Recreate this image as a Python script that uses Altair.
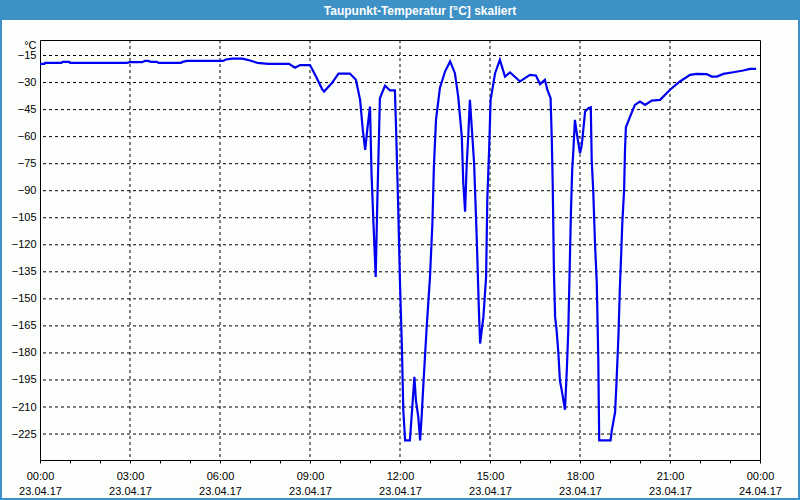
import altair as alt
import pandas as pd

# ---- data ----
hours = [0.0, 0.15, 0.17, 0.72, 0.75, 0.98, 1.0, 2.9, 3.0, 3.4, 3.5, 3.6, 3.7, 3.9, 3.95, 4.7, 4.75,
         4.9, 6.1, 6.2, 6.4, 6.75, 7.0, 7.25, 7.6, 8.3, 8.5, 8.67, 9.0, 9.2, 9.4, 9.47, 9.73, 9.95,
         10.33, 10.53, 10.67, 10.76, 10.84, 10.91, 11.0, 11.05, 11.12, 11.19, 11.24, 11.33, 11.5,
         11.67, 11.83, 11.87, 11.94, 12.0, 12.06, 12.11, 12.17, 12.33, 12.39, 12.48, 12.53, 12.61,
         12.67, 12.72, 12.8, 12.89, 13.0, 13.08, 13.13, 13.2, 13.33, 13.5, 13.67, 13.83, 13.94,
         14.06, 14.11, 14.17, 14.22, 14.28, 14.33, 14.39, 14.47, 14.56, 14.63, 14.67, 14.78, 14.87,
         14.91, 14.97, 15.02, 15.17, 15.33, 15.5, 15.67, 16.0, 16.33, 16.53, 16.67, 16.83, 16.91,
         17.02, 17.06, 17.09, 17.11, 17.13, 17.17, 17.22, 17.28, 17.33, 17.41, 17.5, 17.56, 17.61,
         17.64, 17.67, 17.7, 17.74, 17.78, 17.83, 17.91, 18.0, 18.06, 18.11, 18.17, 18.28, 18.36,
         18.39, 18.44, 18.5, 18.56, 18.61, 18.64, 19.02, 19.06, 19.17, 19.22, 19.28, 19.33, 19.37,
         19.41, 19.47, 19.5, 19.53, 19.67, 19.83, 20.0, 20.17, 20.39, 20.67, 21.0, 21.33, 21.67,
         21.89, 22.22, 22.39, 22.56, 22.78, 23.11, 23.44, 23.67, 23.87]
temps = [-19.6, -19.6, -19.1, -19.1, -18.5, -18.5, -19.1, -19.1, -18.7, -18.7, -18.0, -18.0, -18.5,
         -18.5, -19.1, -19.1, -18.5, -18.0, -18.0, -17.2, -16.7, -16.7, -17.8, -19.1, -19.6, -19.6,
         -21.8, -20.3, -20.3, -26.7, -33.5, -35.0, -30.3, -25.0, -25.0, -28.5, -39.6, -56.3, -67.4,
         -56.0, -43.3, -80.0, -110.0, -137.8, -98.9, -38.7, -31.7, -34.4, -34.4, -56.0, -99.0,
         -141.5, -174.6, -211.8, -228.5, -228.5, -214.6, -193.3, -206.3, -215.6, -228.5, -215.6,
         -191.3, -165.5, -137.8, -108.1, -76.7, -50.7, -33.0, -23.9, -18.3, -24.8, -37.8, -60.0,
         -85.9, -101.7, -76.7, -58.1, -39.6, -54.4, -74.8, -117.4, -156.3, -174.8, -160.0, -137.8,
         -95.2, -67.4, -39.6, -24.8, -17.4, -26.7, -24.4, -29.4, -25.7, -26.1, -30.9, -28.5, -34.0,
         -38.7, -61.8, -85.9, -110.0, -134.0, -160.0, -167.4, -180.3, -195.2, -202.6, -211.5,
         -189.6, -167.4, -145.2, -122.9, -100.7, -78.5, -67.4, -50.7, -60.0, -69.2, -64.6, -56.3,
         -46.1, -44.2, -43.7, -73.0, -89.6, -119.2, -141.5, -184.0, -228.5, -228.5, -223.0, -212.8,
         -195.2, -171.2, -143.4, -126.6, -108.1, -89.6, -67.4, -54.8, -48.9, -42.4, -40.5, -42.4,
         -40.0, -39.6, -34.0, -29.4, -25.7, -25.2, -25.3, -26.7, -26.7, -25.2, -24.3, -23.3, -22.4,
         -22.4]

y_ticks = [-15, -30, -45, -60, -75, -90, -105, -120, -135, -150, -165, -180, -195, -210, -225]
x_ticks = list(range(0, 25))
x_grid = [3, 6, 9, 12, 15, 18, 21]

title_text = "Taupunkt-Temperatur [°C] skaliert"
y_unit = "°C"

FRAME = "#3d91c6"
FONT = "Liberation Sans"

df = pd.DataFrame({"h": hours, "t": temps})
xs = alt.Scale(domain=[0, 24], nice=False, zero=False)
ys = alt.Scale(domain=[-239.4, -6.4], nice=False, zero=False)

label_expr = ("datum.value % 3 == 0 ? [(datum.value % 24 < 10 ? '0' : '') + (datum.value % 24) + ':00', "
              "datum.value < 24 ? '23.04.17' : '24.04.17'] : ''")

x_axis = alt.Axis(values=x_ticks, grid=False, tickSize=3, tickColor="black", domain=False,
                  labelExpr=label_expr, labelFont=FONT, labelFontSize=11, labelColor="black",
                  labelLineHeight=15, labelPadding=7, labelFlush=False, labelOverlap=False,
                  title=None)
y_axis = alt.Axis(values=y_ticks, grid=False, tickSize=0, domain=False, labelFont=FONT,
                  labelFontSize=11, labelColor="black", labelPadding=4,
                  title=y_unit, titleAngle=0, titleAlign="right", titleBaseline="middle",
                  titleX=-4, titleY=5, titleFont=FONT, titleFontSize=11, titleFontWeight="normal",
                  titleColor="black")

hgrid = alt.Chart(pd.DataFrame({"y": y_ticks})).mark_rule(
    color="black", strokeWidth=1, strokeDash=[3, 3]
).encode(y=alt.Y("y:Q", scale=ys, axis=y_axis))

vgrid = alt.Chart(pd.DataFrame({"x": x_grid})).mark_rule(
    color="black", strokeWidth=1, strokeDash=[3, 3]
).encode(x=alt.X("x:Q", scale=xs, axis=x_axis))

line = alt.Chart(df).mark_line(color="#0000f0", strokeWidth=2.2, interpolate="linear").encode(
    x=alt.X("h:Q", scale=xs, axis=x_axis),
    y=alt.Y("t:Q", scale=ys, axis=y_axis),
)

one = alt.Data(values=[{}])
def box(x, x2, y, y2):
    return alt.Chart(one).mark_rect(color=FRAME).encode(
        x=alt.value(x), x2=alt.value(x2), y=alt.value(y), y2=alt.value(y2))

title_bar = box(-40, 760, -40, -20)
left_b = box(-40, -38, -20, 460)
right_b = box(758, 760, -20, 460)
bottom_b = box(-40, 760, 458, 460)

title = alt.Chart(one).mark_text(
    text=title_text, color="white", font=FONT, fontSize=12, fontWeight="bold",
    align="center", baseline="middle"
).encode(x=alt.value(380), y=alt.value(-29))

chart = alt.layer(
    hgrid, vgrid, line, title_bar, left_b, right_b, bottom_b, title
).properties(
    width=720, height=420,
    autosize=alt.AutoSizeParams(type="none"),
    padding={"left": 40, "top": 40, "right": 40, "bottom": 40},
    background="#fcfefc",
).configure_view(stroke="black", strokeWidth=1)

chart.save("out.html", embed_options={"renderer": "svg", "actions": False})
